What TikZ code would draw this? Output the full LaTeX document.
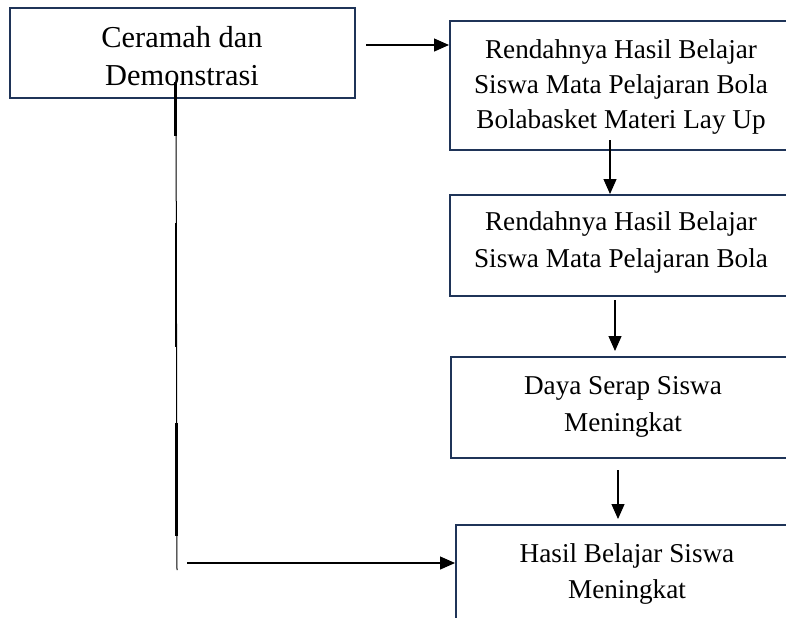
\documentclass[tikz,border=0pt]{standalone}
\usepackage{fontspec}
\setmainfont{Liberation Serif}
\usetikzlibrary{arrows.meta}
\definecolor{boxline}{HTML}{1F3458}
\begin{document}
\begin{tikzpicture}[x=0.5pt,y=-0.5pt,
  box/.style={draw=boxline,line width=1pt,rectangle,inner sep=0pt},
  txt/.style={inner sep=0pt,align=center,font=\fontsize{13.6pt}{17.5pt}\selectfont},
  arr/.style={line width=0.6pt,-{Triangle[length=7.5pt,width=6.5pt]}},
  thinline/.style={line width=0.5pt},
  thickseg/.style={line width=1.4pt}]
\useasboundingbox (0,0) rectangle (786,617);
\clip (0,0) rectangle (786,617);
\fill[white] (0,0) rectangle (786,617);
% boxes
\node[box,minimum width=172.5pt,minimum height=45pt] (b1) at (182.5,53) {};
\node[box,minimum width=171pt,minimum height=64.5pt] (b2) at (621,85.5) {};
\node[box,minimum width=171pt,minimum height=50.5pt] (b3) at (621,245.5) {};
\node[box,minimum width=172pt,minimum height=50.5pt] (b4) at (623,407.5) {};
\node[box,minimum width=171pt,minimum height=48.5pt] (b5) at (627,573.5) {};
% texts
\node[txt,font=\fontsize{15.2pt}{19pt}\selectfont] (t1) at (182,56) {Ceramah dan\\Demonstrasi};
\node[txt] (t2) at (621,87) {Rendahnya Hasil Belajar\\Siswa Mata Pelajaran Bola\\Bolabasket Materi Lay Up};
\node[txt,font=\fontsize{13.6pt}{18.5pt}\selectfont] (t3) at (621,242.5) {Rendahnya Hasil Belajar\\Siswa Mata Pelajaran Bola};
\node[txt,font=\fontsize{13.6pt}{18.5pt}\selectfont] (t4) at (623,407) {Daya Serap Siswa\\Meningkat};
\node[txt,font=\fontsize{13.6pt}{18pt}\selectfont] (t5) at (627,573.5) {Hasil Belajar Siswa\\Meningkat};
% connectors
\coordinate (a1) at (366,45);
\draw[arr] (a1) -- (a1 -| b2.west);
\coordinate (a2) at (610,140);
\draw[arr] (a2) -- (a2 |- b3.north);
\coordinate (a3) at (615,300);
\coordinate (a3e) at (615,351);
\draw[arr] (a3) -- (a3e);
\coordinate (a4) at (618,470);
\coordinate (a4e) at (618,519);
\draw[arr] (a4) -- (a4e);
% left vertical line
\coordinate (v1) at (176,80);
\coordinate (v2) at (177,570);
\draw[thinline] (v1) -- (v2);
\draw[thickseg] (175.5,82) -- (175.5,136);
\draw[thickseg] (176,223) -- (176,347);
\draw[thickseg] (176.5,423) -- (176.5,536);
\coordinate (h1) at (187,563);
\draw[arr] (h1) -- (h1 -| b5.west);
\end{tikzpicture}
\end{document}
